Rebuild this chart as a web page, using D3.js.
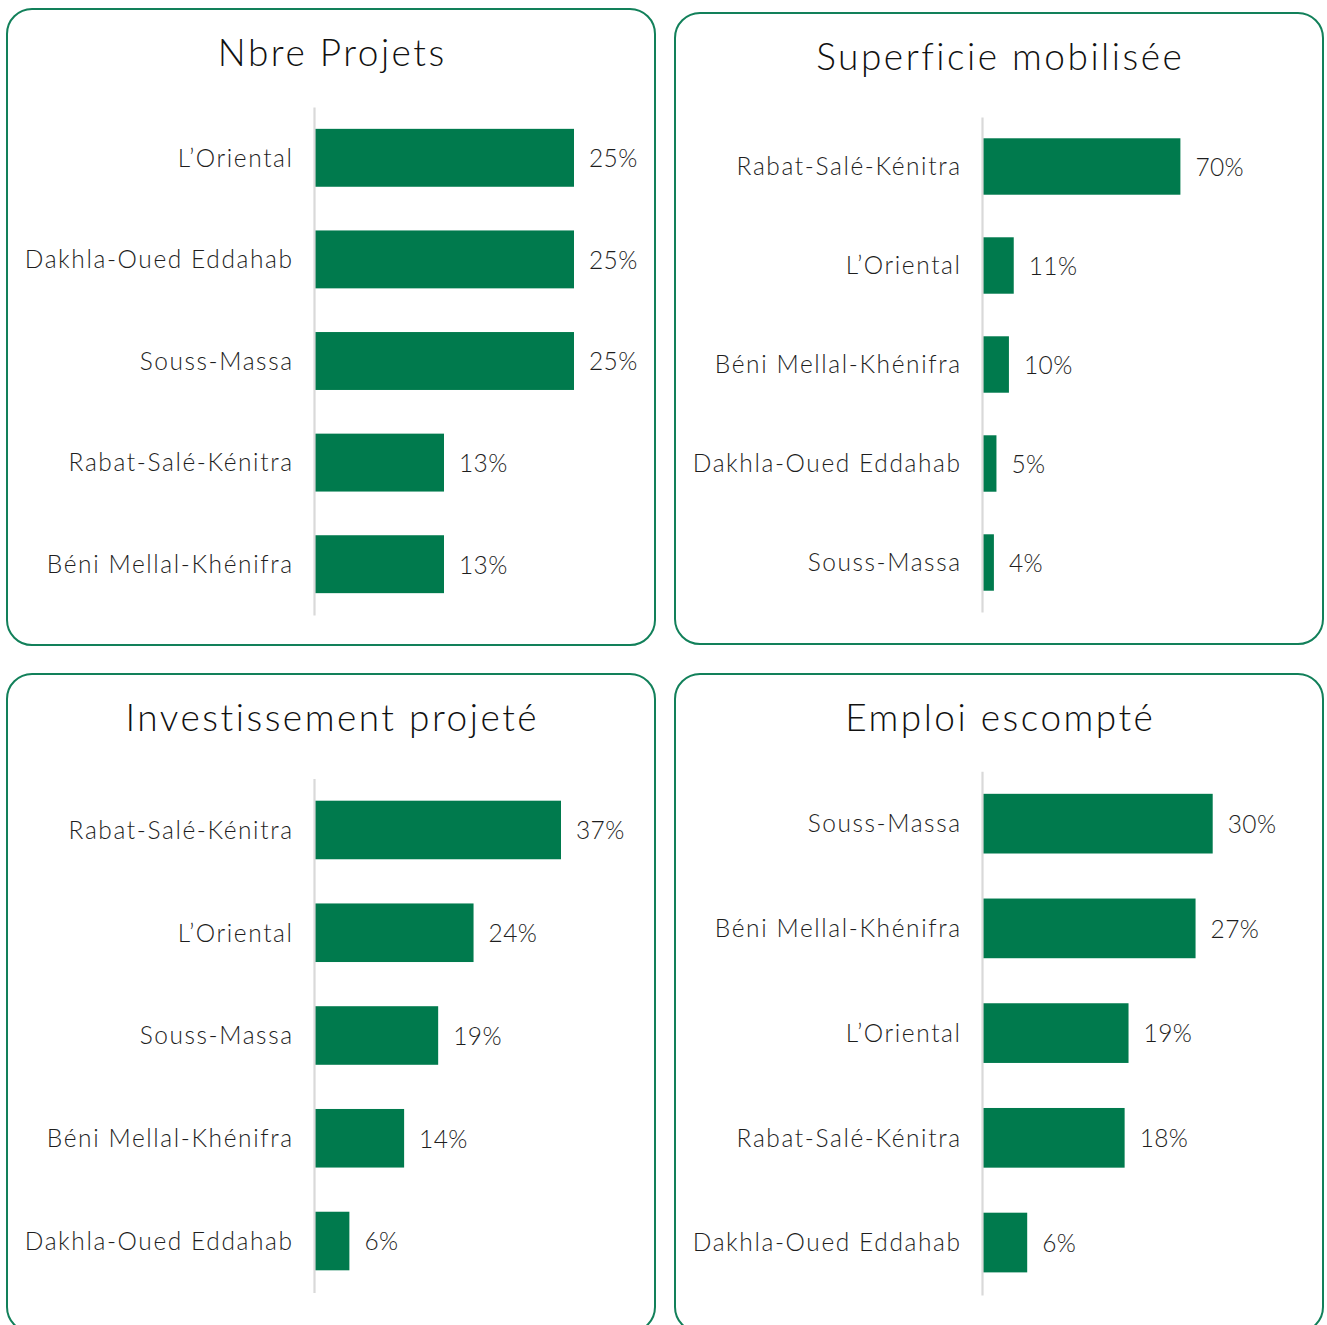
<!DOCTYPE html>
<html>
<head>
<meta charset="utf-8">
<script src="https://cdn.jsdelivr.net/npm/d3@7"></script>
<style>
  html, body { margin: 0; padding: 0; background: #ffffff; }
  svg { display: block; }
  text { font-family: "Lato", "Open Sans", sans-serif; font-weight: 300; fill: #1e1e1e;
         font-variant-ligatures: none; font-feature-settings: "liga" 0, "clig" 0; }
</style>
</head>
<body>
<script>
// ---- Data ----
const panelTitles = ["Nbre Projets", "Superficie mobilisée", "Investissement projeté", "Emploi escompté"];

const projetsCategories = ["L’Oriental", "Dakhla-Oued Eddahab", "Souss-Massa", "Rabat-Salé-Kénitra", "Béni Mellal-Khénifra"];
const projetsValues = [25, 25, 25, 12.5, 12.5];
const projetsLabels = ["25%", "25%", "25%", "13%", "13%"];

const superficieCategories = ["Rabat-Salé-Kénitra", "L’Oriental", "Béni Mellal-Khénifra", "Dakhla-Oued Eddahab", "Souss-Massa"];
const superficieValues = [70, 11.2, 9.5, 5.1, 4.2];
const superficieLabels = ["70%", "11%", "10%", "5%", "4%"];

const investissementCategories = ["Rabat-Salé-Kénitra", "L’Oriental", "Souss-Massa", "Béni Mellal-Khénifra", "Dakhla-Oued Eddahab"];
const investissementValues = [37, 23.9, 18.6, 13.5, 5.3];
const investissementLabels = ["37%", "24%", "19%", "14%", "6%"];

const emploiCategories = ["Souss-Massa", "Béni Mellal-Khénifra", "L’Oriental", "Rabat-Salé-Kénitra", "Dakhla-Oued Eddahab"];
const emploiValues = [29.6, 27.4, 18.8, 18.3, 5.8];
const emploiLabels = ["30%", "27%", "19%", "18%", "6%"];

// ---- Layout (positions / styles only) ----
const W = 1327, H = 1325;
const GREEN = "#007a4d";
const BORDER = "#12805a";
const panels = [
  { box: [7, 9, 648, 636],    titleY: 51,  axisX: 314, yRange: [107, 615],     barMaxPx: 260, cats: projetsCategories, vals: projetsValues, labs: projetsLabels },
  { box: [675, 13, 648, 631], titleY: 55,  axisX: 982, yRange: [117, 612],     barMaxPx: 198.4, cats: superficieCategories, vals: superficieValues, labs: superficieLabels },
  { box: [7, 674, 648, 658],  titleY: 716, axisX: 314, yRange: [778.6, 1292.4], barMaxPx: 247, cats: investissementCategories, vals: investissementValues, labs: investissementLabels },
  { box: [675, 674, 648, 658],titleY: 716, axisX: 982, yRange: [771.3, 1294.9], barMaxPx: 230.7, cats: emploiCategories, vals: emploiValues, labs: emploiLabels }
];

const svg = d3.select("body").append("svg").attr("width", W).attr("height", H);

panels.forEach((p, i) => {
  const g = svg.append("g");
  const [bx, by, bw, bh] = p.box;
  g.append("rect")
    .attr("x", bx).attr("y", by).attr("width", bw).attr("height", bh)
    .attr("rx", 25).attr("ry", 25)
    .attr("fill", "#ffffff").attr("stroke", BORDER).attr("stroke-width", 2);

  g.append("text")
    .attr("x", bx + bw / 2 + 1.3).attr("y", p.titleY)
    .attr("text-anchor", "middle").attr("dominant-baseline", "central")
    .style("font-size", "37px").style("fill", "#111").style("letter-spacing", "2.5px")
    .text(panelTitles[i]);

  const data = p.cats.map((c, k) => ({ cat: c, val: p.vals[k], lab: p.labs[k] }));
  const maxV = d3.max(p.vals);
  const x = d3.scaleLinear().domain([0, maxV]).range([p.axisX, p.axisX + p.barMaxPx]);
  const y = d3.scaleBand().domain(p.cats).range(p.yRange).paddingInner(0.43).paddingOuter(0.215);

  g.selectAll("rect.bar").data(data).join("rect")
    .attr("class", "bar")
    .attr("x", x(0)).attr("y", d => y(d.cat))
    .attr("width", d => x(d.val) - x(0)).attr("height", y.bandwidth())
    .attr("fill", GREEN);

  // category axis: vertical line only, no ticks
  const axis = d3.axisLeft(y).tickSize(0).tickPadding(20.4);
  const ag = g.append("g").attr("transform", `translate(${p.axisX},0)`).call(axis);
  ag.select(".domain").attr("stroke", "#d9d9d9").attr("stroke-width", 2.2);
  ag.selectAll(".tick text")
    .style("font-size", "24.5px").style("fill", "#1e1e1e")
    .style("font-family", "Lato, 'Open Sans', sans-serif").style("font-weight", 300)
    .style("letter-spacing", "1.6px")
    .attr("dy", "0.36em");

  g.selectAll("text.val").data(data).join("text")
    .attr("class", "val")
    .attr("x", d => x(d.val) + 15).attr("y", d => y(d.cat) + y.bandwidth() / 2)
    .attr("dy", "0.38em")
    .style("font-size", "24.5px").style("letter-spacing", "0.4px")
    .text(d => d.lab);
});
</script>
</body>
</html>
